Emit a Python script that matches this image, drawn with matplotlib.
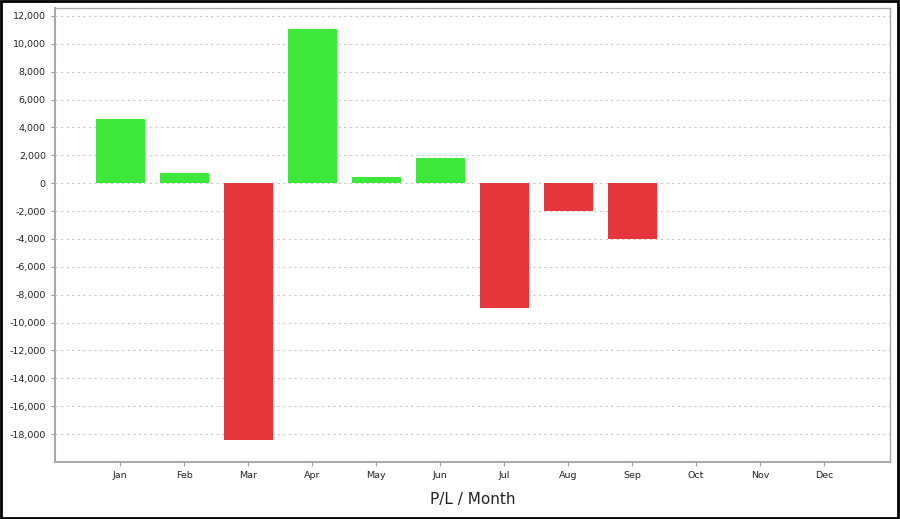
import matplotlib.pyplot as plt
from matplotlib.patches import Rectangle
from matplotlib.ticker import FuncFormatter

months = ['Jan', 'Feb', 'Mar', 'Apr', 'May', 'Jun', 'Jul', 'Aug', 'Sep', 'Oct', 'Nov', 'Dec']
pl_values = [4580, 720, -18430, 11050, 430, 1830, -8920, -2030, -3970]

green = '#3de83a'
red = '#e5373b'

fig = plt.figure(figsize=(9, 5.19), dpi=100)
ax = fig.add_axes([0.061, 0.110, 0.928, 0.874])

x = list(range(len(pl_values)))
colors = [green if v >= 0 else red for v in pl_values]
ax.bar(x, pl_values, width=0.76, color=colors, linewidth=0, zorder=3)

ax.set_xticks(range(len(months)))
ax.set_xticklabels(months)
ax.set_yticks(range(-18000, 12001, 2000))
ax.set_xlim(-1.02, 12.03)
ax.set_ylim(-20000, 12550)
ax.yaxis.set_major_formatter(FuncFormatter(lambda v, p: '{:,.0f}'.format(v)))

ax.grid(axis='y', color='#c8c8c8', linestyle=(0, (2, 3)), linewidth=0.8, zorder=0)
ax.tick_params(labelsize=6.8, colors='#222222', length=3, width=0.8)
ax.tick_params(axis='both', color='#999999')
for s in ax.spines.values():
    s.set_color('#aaaaaa')
    s.set_linewidth(1.0)
ax.spines['left'].set_linewidth(1.5)
ax.spines['bottom'].set_linewidth(1.5)

ax.set_xlabel('P/L / Month', fontsize=11, color='#222222', labelpad=9)

# black frame around the whole picture
fig.patches.append(Rectangle((0.001, 0.002), 0.997, 0.996, transform=fig.transFigure,
                             fill=False, edgecolor='black', linewidth=2))

plt.savefig('out.png', dpi=100)
